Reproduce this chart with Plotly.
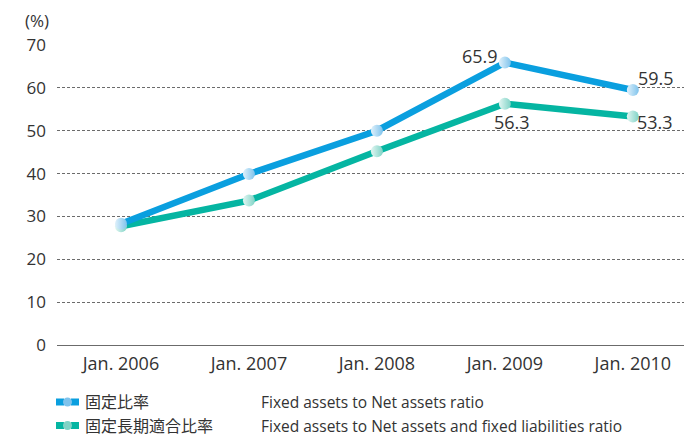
import plotly.graph_objects as go

categories = ["Jan. 2006", "Jan. 2007", "Jan. 2008", "Jan. 2009", "Jan. 2010"]
fixed_ratio = [28.3, 39.9, 50.0, 65.9, 59.5]
fixed_long_ratio = [27.7, 33.7, 45.2, 56.3, 53.3]
y_ticks = [0, 10, 20, 30, 40, 50, 60, 70]
series_names_jp = ["固定比率", "固定長期適合比率"]
series_names_en = ["Fixed assets to Net assets ratio",
                   "Fixed assets to Net assets and fixed liabilities ratio"]

BLUE = "#0a9fdf"
TEAL = "#05b5a2"
BLUE_M = "#7fc3ec"
TEAL_M = "#7fd3c6"
FONT = "Open Sans, Noto Sans CJK JP, sans-serif"
TXT = "#333333"

fig = go.Figure()
for vals, col, mcol, light in [(fixed_long_ratio, TEAL, TEAL_M, "#e2f6f2"),
                               (fixed_ratio, BLUE, BLUE_M, "#e0f1fb")]:
    fig.add_trace(go.Scatter(
        x=categories, y=vals, mode="lines+markers",
        line=dict(color=col, width=6.5),
        marker=dict(size=12, color=light, line=dict(width=0),
                    gradient=dict(type="horizontal", color=mcol)),
        showlegend=False, hoverinfo="skip"))

# data labels
labels = [
    (categories[3], fixed_ratio[3], -25, 7),
    (categories[4], fixed_ratio[4], 23, 12),
    (categories[3], fixed_long_ratio[3], 7, -18),
    (categories[4], fixed_long_ratio[4], 22, -5),
]
for x, y, xs, ys in labels:
    fig.add_annotation(x=x, y=y, xref="x", yref="y", text=f"{y:.1f}",
                       showarrow=False, xshift=xs, yshift=ys,
                       font=dict(size=18, color=TXT, family=FONT))

fig.add_annotation(xref="paper", yref="paper", x=(37 - 57) / 627,
                   y=(345 - 21) / 300, text="(%)",
                   showarrow=False, xanchor="center", yanchor="middle",
                   font=dict(size=17, color=TXT, family=FONT))

# legend (custom)
leg_y = [402, 425.5]
cols = [(BLUE, BLUE_M), (TEAL, TEAL_M)]
for i, (yy, (c, m)) in enumerate(zip(leg_y, cols)):
    for xa, xb in [(56, 64), (71, 79)]:
        fig.add_shape(type="rect", xref="paper", yref="paper",
                      x0=(xa - 57) / 627, x1=(xb - 57) / 627,
                      y0=(345 - yy - 3.5) / 300, y1=(345 - yy + 3.5) / 300,
                      fillcolor=c, line=dict(width=0))
    fig.add_shape(type="circle", xref="paper", yref="paper",
                  x0=(63 - 57) / 627, x1=(72 - 57) / 627,
                  y0=(345 - yy - 4.5) / 300, y1=(345 - yy + 4.5) / 300,
                  fillcolor=m, line=dict(width=0))
    fig.add_annotation(xref="paper", yref="paper", x=(84 - 57) / 627,
                       y=(345 - yy) / 300, text=series_names_jp[i],
                       showarrow=False, xanchor="left", yanchor="middle",
                       borderpad=0,
                       font=dict(size=16, color=TXT, family=FONT))
    fig.add_annotation(xref="paper", yref="paper", x=(260 - 57) / 627,
                       y=(345 - yy) / 300, text=series_names_en[i],
                       showarrow=False, xanchor="left", yanchor="middle",
                       borderpad=0,
                       font=dict(size=15.5, color=TXT, family=FONT))

fig.update_layout(
    width=684, height=436,
    margin=dict(l=57, r=0, t=45, b=91),
    plot_bgcolor="white", paper_bgcolor="white",
    font=dict(family=FONT, color=TXT, size=15),
    xaxis=dict(type="category", range=[-0.5, 4.4], showgrid=False,
               showline=False, zeroline=False, ticks="",
               ticklabelstandoff=6,
               tickfont=dict(size=18, color=TXT)),
    yaxis=dict(range=[0, 70], tickvals=y_ticks, showgrid=True,
               gridcolor="#6b6b6b", griddash="3px,2px", gridwidth=1,
               zeroline=True, zerolinecolor="#6b6b6b", zerolinewidth=1.2,
               showline=False, ticks="", ticklabelstandoff=10,
               tickfont=dict(size=17, color=TXT)),
)
fig.write_html("out.html", config={"displayModeBar": False},
               post_script="document.body.style.margin='0';document.body.style.overflow='hidden';")
